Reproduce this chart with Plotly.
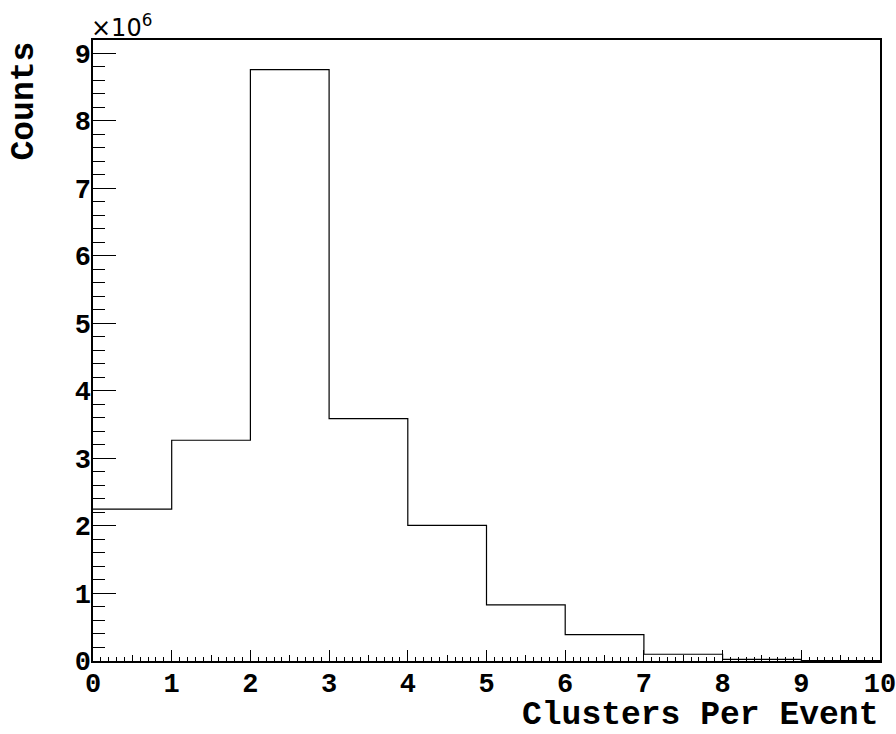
import plotly.graph_objects as go

# Histogram of clusters per event (bin edges 0..10, counts in units of 1e6)
bin_edges = [0, 1, 2, 3, 4, 5, 6, 7, 8, 9, 10]
counts_millions = [2.25, 3.27, 8.76, 3.59, 2.01, 0.83, 0.39, 0.10, 0.025, 0.005]
x_tick_labels = ["0", "1", "2", "3", "4", "5", "6", "7", "8", "9", "10"]
y_tick_values = [0, 1, 2, 3, 4, 5, 6, 7, 8, 9]

W, H = 896, 734
L, R, T, B = 93, 16, 40, 73
plot_w = W - L - R
plot_h = H - T - B

label_font = dict(family="Liberation Mono", size=27, color="black", weight="bold")
xtitle_font = dict(family="Liberation Mono", size=33, color="black", weight="bold")
ytitle_font = dict(family="Liberation Mono", size=33, color="black", weight="bold")

step_y = counts_millions + [counts_millions[-1]]

fig = go.Figure()
fig.add_trace(go.Scatter(
    x=bin_edges, y=step_y, mode="lines",
    line=dict(shape="hv", color="black", width=1.2),
    hoverinfo="skip", showlegend=False,
))
# dummy trace on the overlay axis carrying the half-integer ticks
fig.add_trace(go.Scatter(x=[0, 10], y=[0, 0], mode="lines", line=dict(width=0),
                         xaxis="x2", hoverinfo="skip", showlegend=False))

ymax = max(counts_millions) * 1.05

fig.update_layout(
    width=W, height=H,
    margin=dict(l=L, r=R, t=T, b=B, autoexpand=False),
    paper_bgcolor="white", plot_bgcolor="white",
    xaxis=dict(
        range=[0, 10], showgrid=False, zeroline=False, automargin=False,
        showline=True, linecolor="black", linewidth=1.5, mirror=True,
        tickmode="array", tickvals=bin_edges, ticktext=x_tick_labels,
        ticks="inside", ticklen=11, tickcolor="black", tickwidth=1,
        tickfont=label_font, ticklabelstandoff=-3, ticklabeloverflow="allow",
        minor=dict(dtick=0.1, ticks="inside", ticklen=4, tickcolor="black", tickwidth=1),
    ),
    xaxis2=dict(
        overlaying="x", matches="x", range=[0, 10], side="bottom",
        showgrid=False, zeroline=False, showline=False, automargin=False,
        tickmode="array", tickvals=[v + 0.5 for v in bin_edges[:-1]],
        ticks="inside", ticklen=6, tickcolor="black", tickwidth=1,
        showticklabels=False,
    ),
    yaxis=dict(
        range=[0, ymax], showgrid=False, zeroline=False, automargin=False,
        showline=True, linecolor="black", linewidth=1.5, mirror=True,
        tickmode="array", tickvals=y_tick_values,
        ticktext=[str(v) for v in y_tick_values],
        ticks="inside", ticklen=23, tickcolor="black", tickwidth=1,
        tickfont=label_font, ticklabelstandoff=-5, ticklabeloverflow="allow",
        minor=dict(dtick=0.2, ticks="inside", ticklen=12, tickcolor="black", tickwidth=1),
    ),
    annotations=[
        dict(text="Clusters Per Event", xref="paper", yref="paper",
             x=1.0, y=-54 / plot_h, xanchor="right", yanchor="middle",
             showarrow=False, font=xtitle_font),
        dict(text="Counts", xref="paper", yref="paper",
             x=-69 / plot_w, y=1.0, xanchor="center", yanchor="top", textangle=-90,
             showarrow=False, font=ytitle_font),
        dict(text="×10<sup>6</sup>", xref="paper", yref="paper",
             x=-4 / plot_w, y=1.0, xanchor="left", yanchor="bottom", yshift=-4,
             showarrow=False, font=dict(family="DejaVu Sans", size=24, color="black")),
    ],
)

fig.write_html("out.html")
